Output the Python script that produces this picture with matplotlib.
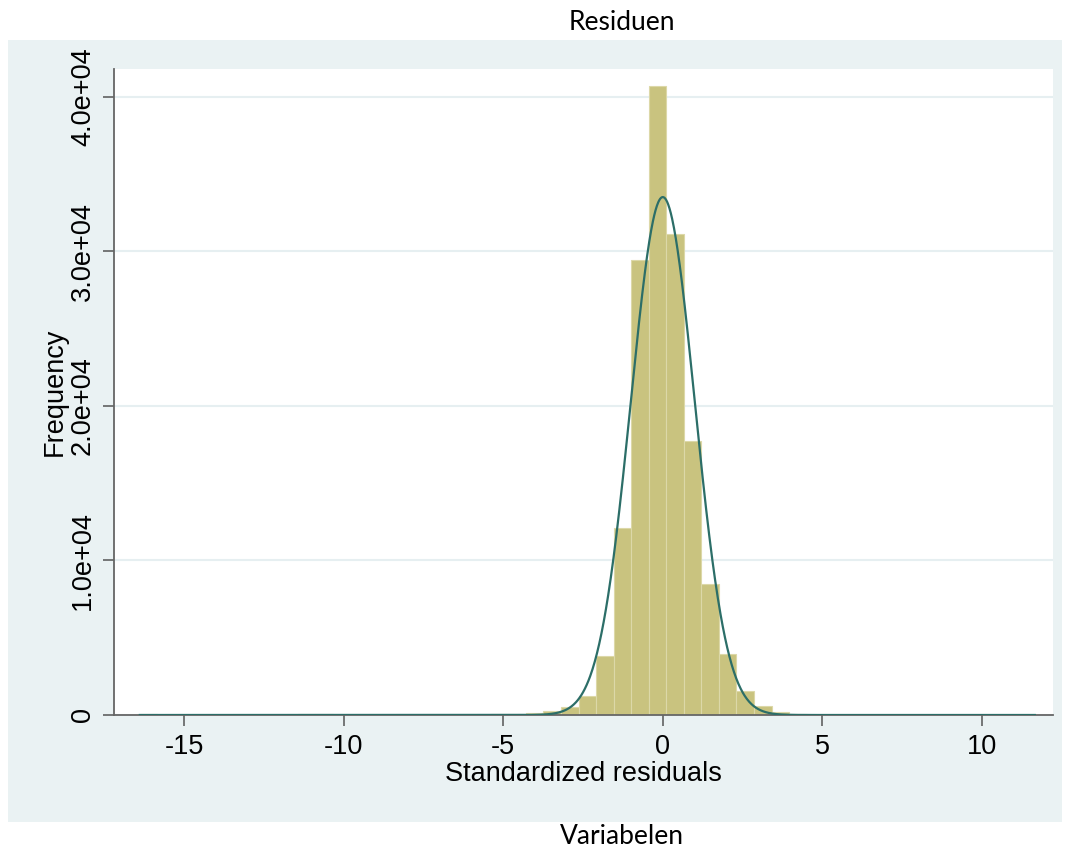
import numpy as np
import matplotlib
matplotlib.use("Agg")
import matplotlib.pyplot as plt
from matplotlib.patches import Rectangle

# ---- data ----
bin_start = -16.39
bin_width = 0.55
frequencies = [40, 0, 0, 30, 0, 0, 0, 0, 0, 40,
               40, 25, 25, 25, 25, 25, 25, 25, 25, 30,
               60, 90, 140, 280, 540, 1250, 3840, 12100, 29450, 40700,
               31100, 17700, 8460, 3950, 1570, 580, 170, 60, 25, 25,
               25, 25, 25, 25, 0, 30, 0, 25, 25, 25,
               25]
curve_mean = 0.0
curve_sd = 1.0
x_ticks = [-15, -10, -5, 0, 5, 10]
y_ticks = [0, 10000, 20000, 30000, 40000]
y_tick_labels = ["0", "1.0e+04", "2.0e+04", "3.0e+04", "4.0e+04"]
title_text = "Residuen"
caption_text = "Variabelen"
x_label = "Standardized residuals"
y_label = "Frequency"

W, H = 1070, 850
fig = plt.figure(figsize=(W / 100, H / 100), dpi=100)
fig.patch.set_facecolor("white")

# Stata-like graph region panel
panel = Rectangle((8 / W, 1 - 822 / H), 1054 / W, 782 / H,
                  transform=fig.transFigure, facecolor="#EAF2F3",
                  edgecolor="none", zorder=-5)
fig.patches.append(panel)

ax = fig.add_axes([114 / W, 1 - 715 / H, (1053 - 114) / W, (715 - 69) / H])
ax.set_zorder(2)
ax.set_facecolor("white")

freq = np.array(frequencies, dtype=float)
edges = bin_start + bin_width * np.arange(len(freq) + 1)
lefts = edges[:-1]
mask = freq > 0
ax.bar(lefts[mask], freq[mask], width=bin_width, align="edge",
       color="#C9C37F", edgecolor="#DCD8A8", linewidth=0.8, zorder=2)

N = freq.sum()
xs = np.linspace(edges[0], edges[-1], 2000)
ys = N * bin_width / (curve_sd * np.sqrt(2 * np.pi)) * np.exp(-0.5 * ((xs - curve_mean) / curve_sd) ** 2)
ax.plot(xs, ys, color="#2C6E68", linewidth=1.6, zorder=3)

ax.set_xlim(-17.2, 12.23)
ax.set_ylim(0, 41790)
ax.set_xticks(x_ticks)
ax.set_xticklabels([str(t) for t in x_ticks])
ax.set_yticks(y_ticks)
ax.set_yticklabels(y_tick_labels)

ax.yaxis.grid(True, color="#E6EFF1", linewidth=1.5, zorder=0)
ax.set_axisbelow(True)
for s in ["top", "right"]:
    ax.spines[s].set_visible(False)
for s in ["left", "bottom"]:
    ax.spines[s].set_color("#666666")
    ax.spines[s].set_linewidth(1.3)

font = "Liberation Sans"
fs = 19.5
ax.tick_params(axis="both", direction="out", length=8, width=1.1,
               color="#555555", labelsize=fs, labelcolor="black")
ax.tick_params(axis="x", pad=6)
ax.tick_params(axis="y", pad=5)
for lab in ax.get_xticklabels() + ax.get_yticklabels():
    lab.set_fontfamily(font)
for lab in ax.get_yticklabels():
    lab.set_rotation(90)
    lab.set_va("center")

ax.set_xlabel(x_label, fontsize=fs, fontfamily=font, labelpad=0.5)
ax.set_ylabel(y_label, fontsize=fs, fontfamily=font)
ax.yaxis.set_label_coords((68 - 114) / (1053 - 114), 0.5)

fig.text(622 / W, 1 - 22 / H, title_text, ha="center", va="center",
         fontsize=19, fontfamily="Lato")
fig.text(622 / W, 1 - 836 / H, caption_text, ha="center", va="center",
         fontsize=19, fontfamily="Lato")

fig.savefig("out.png", dpi=100, facecolor="white")
